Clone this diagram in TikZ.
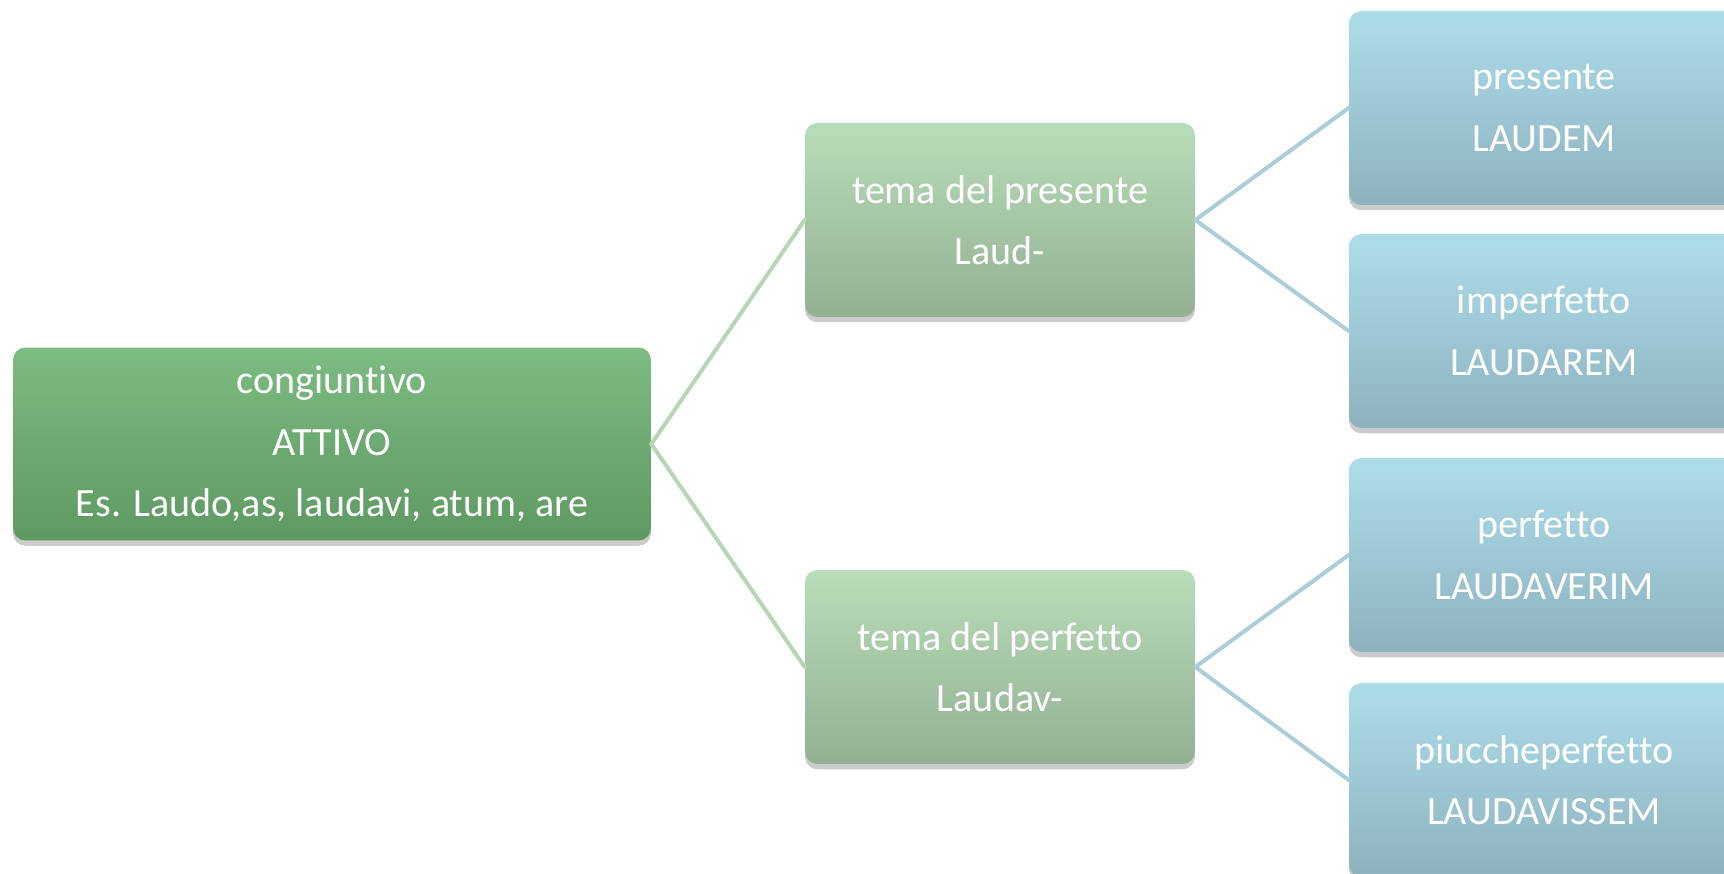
\documentclass[tikz,border=0pt]{standalone}
\usepackage{fontspec}
\setmainfont[Ligatures=NoCommon]{Carlito}
\usetikzlibrary{shadows}
\definecolor{rootTop}{HTML}{7CBB81}
\definecolor{rootBot}{HTML}{5E9962}
\definecolor{midTop}{HTML}{B9DDB9}
\definecolor{midBot}{HTML}{93B093}
\definecolor{leafTop}{HTML}{AEDDEA}
\definecolor{leafBot}{HTML}{8DB2BE}
\definecolor{greenLink}{HTML}{B8D5B8}
\definecolor{blueLink}{HTML}{ABCED9}
\tikzset{
  box/.style={rectangle,rounded corners=7pt,text=white,align=center,
    font=\fontsize{22.8}{35}\selectfont,
    drop shadow={shadow xshift=0pt,shadow yshift=-3pt,opacity=0.4}},
  rootbox/.style={box,top color=rootTop,bottom color=rootBot,minimum width=12.76cm,minimum height=3.86cm},
  midbox/.style={box,top color=midTop,bottom color=midBot,minimum width=7.8cm,minimum height=3.88cm},
  leafbox/.style={box,top color=leafTop,bottom color=leafBot,minimum width=7.8cm,minimum height=3.88cm},
  link/.style={line width=2.3pt},
}
\begin{document}
\begin{tikzpicture}[line cap=round,line join=round,x=0.02cm,y=-0.02cm]
	\clip (0,0) rectangle (1724,874);
	\node[rootbox] (cong) at (332,444) {congiuntivo\\ATTIVO\\Es. Laudo,as, laudavi, atum, are};
	\node[midbox] (tpres) at (1000,220) {tema del presente\\Laud-};
	\node[midbox] (tperf) at (1000,667) {tema del perfetto\\Laudav-};
	\node[leafbox] (pres) at (1544,108) {presente\\LAUDEM};
	\node[leafbox] (impf) at (1544,331) {imperfetto\\LAUDAREM};
	\node[leafbox] (perf) at (1544,555) {perfetto\\LAUDAVERIM};
	\node[leafbox] (ppf) at (1544,780) {piuccheperfetto\\LAUDAVISSEM};
	\draw [link,greenLink] (cong.east) -- (tpres.west);
	\draw [link,greenLink] (cong.east) -- (tperf.west);
	\draw [link,blueLink] (tpres.east) -- (pres.west);
	\draw [link,blueLink] (tpres.east) -- (impf.west);
	\draw [link,blueLink] (tperf.east) -- (perf.west);
	\draw [link,blueLink] (tperf.east) -- (ppf.west);
\end{tikzpicture}
\end{document}
